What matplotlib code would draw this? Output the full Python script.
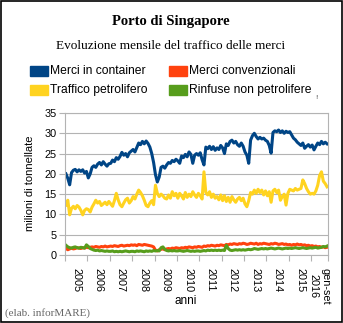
import matplotlib.pyplot as plt
from matplotlib.patches import Rectangle
from matplotlib.ticker import FixedLocator, NullFormatter
import numpy as np

# monthly values, gen 2005 - set 2016 (milioni di tonnellate)
container = [
    20.0, 18.9, 17.3, 20.3, 20.9, 21.1, 20.5, 21.0, 20.6, 21.0, 20.2, 20.6,
    19.0, 20.0, 21.6, 22.0, 21.6, 22.4, 22.8, 22.2, 23.0, 22.4, 21.9, 22.5,
    22.6, 23.4, 23.0, 24.0, 23.6, 24.3, 25.3, 24.6, 25.0, 24.2, 25.2, 25.6,
    26.0, 25.4, 26.5, 27.6, 27.2, 28.0, 27.4, 28.1, 27.5, 26.6, 25.0, 22.8,
    19.8, 18.0, 19.2, 21.6, 21.9, 21.4, 22.2, 22.8, 22.6, 23.3, 23.0, 23.6,
    23.2, 22.6, 24.4, 24.0, 24.8, 24.2, 25.4, 24.8, 22.6, 24.6, 25.0, 24.6,
    25.2, 23.5, 22.2, 26.6, 26.2, 26.8, 26.0, 26.7, 25.8, 26.4, 26.0, 27.0,
    26.4, 25.0, 27.4, 27.0, 28.0, 28.3, 27.6, 28.0, 27.2, 26.8, 27.6, 26.8,
    25.4, 24.6, 22.6, 28.3, 29.4, 30.0, 29.2, 28.6, 29.0, 28.6, 28.8, 28.3,
    28.0, 27.0, 25.1, 30.2, 30.6, 30.4, 30.8, 30.2, 30.6, 30.0, 30.5, 30.2,
    30.4, 29.6, 28.8, 28.4, 27.8, 27.4, 27.0, 27.6, 26.3, 26.8, 27.2, 26.6,
    27.1, 25.9, 26.8, 27.6, 27.2, 28.0, 27.4, 27.8, 27.4,
]
convenzionali = [
    1.6, 1.3, 1.5, 1.7, 1.5, 1.6, 1.8, 1.7, 1.6, 1.8, 1.7, 1.9,
    1.8, 1.9, 2.0, 1.9, 2.1, 2.0, 1.9, 2.1, 2.0, 2.2, 2.0, 2.1,
    2.2, 2.1, 2.3, 2.2, 2.1, 2.3, 2.4, 2.2, 2.3, 2.4, 2.3, 2.5,
    2.4, 2.5, 2.3, 2.6, 2.5, 2.4, 2.6, 2.5, 2.4, 2.3, 2.2, 2.0,
    1.2, 1.0, 1.3, 1.4, 1.5, 1.3, 1.5, 1.6, 1.5, 1.7, 1.6, 1.8,
    1.7, 1.6, 1.8, 1.7, 1.9, 1.8, 2.0, 1.9, 1.8, 2.0, 1.9, 2.1,
    2.0, 1.9, 2.2, 2.1, 2.3, 2.2, 2.4, 2.3, 2.2, 2.4, 2.3, 2.5,
    2.4, 2.3, 2.6, 2.5, 2.7, 2.6, 2.8, 2.7, 2.6, 2.8, 2.7, 2.9,
    2.8, 2.6, 2.7, 2.9, 2.8, 2.7, 2.9, 2.6, 2.8, 2.7, 2.9, 2.8,
    2.7, 2.6, 2.8, 2.7, 2.9, 2.8, 2.6, 2.7, 2.8, 2.6, 2.7, 2.5,
    2.6, 2.4, 2.6, 2.5, 2.7, 2.5, 2.6, 2.4, 2.5, 2.3, 2.4, 2.2,
    2.3, 2.1, 2.2, 2.0, 2.1, 1.9, 2.0, 1.8, 1.9,
]
petrolifero = [
    12.3, 13.5, 9.9, 11.5, 12.0, 11.4, 12.2, 11.8, 11.0, 9.9, 11.0, 11.4,
    11.2, 10.6, 11.8, 12.6, 13.5, 12.8, 13.2, 12.2, 12.6, 13.0, 12.4, 13.2,
    12.6, 12.0, 13.4, 15.2, 13.6, 12.4, 11.9, 12.8, 13.6, 14.0, 12.8, 13.4,
    14.4, 13.8, 15.0, 16.0, 15.4, 14.6, 13.5, 12.2, 11.9, 12.8, 13.4, 12.4,
    17.2, 15.2, 14.4, 15.0, 14.6, 14.0, 13.8, 14.8, 14.0, 15.6, 14.6, 15.2,
    14.0, 15.2, 14.6, 13.8, 15.4, 14.2, 15.0, 14.4, 15.6, 14.8, 14.2, 15.2,
    14.6, 13.8, 20.5, 15.4, 14.8, 15.6, 14.2, 15.0, 14.0, 14.4, 13.6, 14.8,
    13.4, 14.6, 13.2, 14.2, 13.0, 14.4, 13.6, 13.0, 13.8, 14.2, 13.4, 14.0,
    12.6, 11.9, 13.4, 15.4, 15.0, 16.0, 15.2, 16.2, 15.4, 16.0, 14.8, 15.8,
    14.6, 15.6, 13.0, 15.8, 16.2, 15.4, 16.0, 13.5, 14.4, 15.0, 12.3, 15.2,
    16.2, 16.0, 15.8, 16.4, 16.0, 16.2, 16.4, 18.5, 17.6, 16.4, 15.6, 15.0,
    15.2, 15.0, 15.8, 17.2, 19.6, 20.5, 18.2, 17.6, 16.8,
]
rinfuse = [
    2.4, 2.0, 1.8, 1.7, 1.9, 2.0, 1.8, 1.7, 1.9, 1.8, 1.7, 2.5,
    2.1, 1.6, 1.4, 1.2, 1.1, 1.2, 1.0, 1.1, 1.0, 0.9, 1.0, 0.9,
    0.9, 1.0, 0.8, 0.9, 0.8, 0.9, 0.8, 0.9, 1.0, 0.9, 0.8, 0.9,
    0.9, 0.8, 1.0, 0.9, 1.0, 0.9, 0.8, 1.0, 0.9, 1.0, 0.9, 1.1,
    1.0, 1.1, 1.0, 1.8, 2.0, 1.4, 1.1, 1.0, 1.1, 1.0, 1.1, 1.0,
    1.0, 1.1, 1.0, 0.9, 1.0, 1.1, 1.0, 0.9, 1.0, 0.9, 1.0, 1.0,
    0.9, 1.0, 1.1, 1.0, 1.2, 1.1, 1.2, 1.1, 1.2, 1.1, 1.2, 1.1,
    1.2, 1.1, 2.4, 1.6, 1.2, 1.1, 1.2, 1.3, 1.2, 1.3, 1.2, 1.3,
    1.2, 1.3, 1.4, 1.3, 1.4, 1.6, 1.5, 1.4, 1.5, 1.6, 1.5, 1.6,
    1.5, 1.6, 1.7, 1.6, 1.5, 1.6, 1.7, 1.6, 1.5, 1.6, 1.7, 1.6,
    1.7, 1.6, 1.7, 1.8, 1.7, 1.6, 1.7, 1.8, 1.7, 1.6, 1.7, 1.8,
    1.7, 1.8, 1.9, 1.7, 1.8, 1.9, 2.1, 2.0, 2.2,
]
year_labels = ['2005', '2006', '2007', '2008', '2009', '2010', '2011',
               '2012', '2013', '2014', '2015', 'gen-set\n2016']
months_per_year = [12] * 11 + [9]

series = [
    ('Merci in container', container, '#004586'),
    ('Merci convenzionali', convenzionali, '#ff420e'),
    ('Traffico petrolifero', petrolifero, '#ffd320'),
    ('Rinfuse non petrolifere', rinfuse, '#579d1c'),
]

W, H = 343, 323
fig = plt.figure(figsize=(W / 100, H / 100), dpi=100)
ax = fig.add_axes([65 / W, (H - 255) / H, (328 - 65) / W, (255 - 113) / H])

x = np.arange(len(container))
for i in [0, 2, 1, 3]:
    name, vals, col = series[i]
    ax.plot(x, vals, color=col, lw=2.2, solid_joinstyle='round')

ax.set_xlim(-0.5, len(container) - 0.5)
ax.set_ylim(0, 35)
ax.set_yticks(range(0, 36, 5))
ax.yaxis.grid(True, color='#b3b3b3', lw=0.8)
ax.set_axisbelow(True)

# ticks on year boundaries, labels in the middle of each year
edges = np.cumsum([0] + months_per_year) - 0.5
centers = (edges[:-1] + edges[1:]) / 2
ax.xaxis.set_major_locator(FixedLocator(edges))
ax.xaxis.set_major_formatter(NullFormatter())
ax.set_xticks(centers, minor=True)
ax.set_xticklabels(year_labels, minor=True, rotation=270,
                   fontsize=7.8, family='Liberation Sans', multialignment='center')
ax.tick_params(axis='x', which='minor', length=0, pad=9)
ax.tick_params(axis='x', which='major', length=4, color='#b3b3b3')
ax.tick_params(axis='y', length=4, color='#b3b3b3', pad=2)
for lab in ax.get_yticklabels():
    lab.set_family('Liberation Sans')
    lab.set_fontsize(7.8)
for sp in ax.spines.values():
    sp.set_color('#b3b3b3')
    sp.set_linewidth(0.8)

fig.text(30 / W, 1 - 183 / H, 'milioni di tonnellate', rotation=90,
         ha='center', va='center', fontsize=8, family='Liberation Sans')
fig.text(186 / W, 1 - 301 / H, 'anni', ha='center', va='center',
         fontsize=8.5, family='Liberation Sans')

fig.text(171 / W, 1 - 21 / H, 'Porto di Singapore', ha='center', va='center',
         fontsize=10.5, fontweight='bold', family='Liberation Serif')
fig.text(171 / W, 1 - 46 / H, 'Evoluzione mensile del traffico delle merci',
         ha='center', va='center', fontsize=9.5, family='Liberation Serif')
fig.text(5 / W, 1 - 313 / H, '(elab. inforMARE)', ha='left', va='center',
         fontsize=8, family='Liberation Serif', color='#666666')
fig.text(316 / W, 1 - 98 / H, '!', ha='center', va='center', fontsize=4)

# legend, two columns
leg_pos = [(30, 71), (169, 71), (30, 90), (169, 90)]
for (name, vals, col), (lx, ly) in zip(series, leg_pos):
    fig.patches.append(Rectangle((lx / W, 1 - (ly + 5) / H), 18 / W, 10 / H,
                                 transform=fig.transFigure, color=col))
    fig.text((lx + 20) / W, 1 - ly / H, name, ha='left', va='center',
             fontsize=8.7, family='Liberation Sans')

fig.patches.append(Rectangle((0.75 / W, 0.75 / H), (W - 1.5) / W, (H - 1.5) / H,
                             transform=fig.transFigure, fill=False,
                             ec='black', lw=1.2))

fig.savefig('out.png', dpi=100)
